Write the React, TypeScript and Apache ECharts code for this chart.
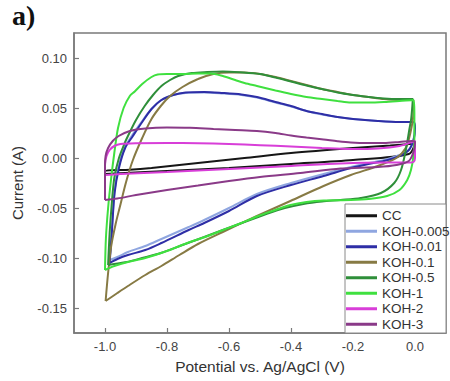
import React, { useEffect, useRef } from 'react';
import * as echarts from 'echarts';

const seriesNames = ['CC', 'KOH-0.005', 'KOH-0.01', 'KOH-0.1', 'KOH-0.5', 'KOH-1', 'KOH-2', 'KOH-3'];
const seriesColors = ['#161616', '#8fa6e0', '#2e2ea6', '#877a44', '#2f8f3a', '#3fe03f', '#d83ed8', '#8a3a88'];
const xTicks = [-1.0, -0.8, -0.6, -0.4, -0.2, 0.0];
const yTicks = [-0.15, -0.1, -0.05, 0.0, 0.05, 0.1];

const loopCC: number[][] = [
  [-1.0, -0.016], [-1.0, -0.013], [-0.92, -0.0118], [-0.85, -0.010], [-0.7, -0.005], [-0.55, 0.0], [-0.4, 0.005],
  [-0.2, 0.010], [-0.08, 0.0125], [0.0, 0.0145], [-0.02, 0.004], [-0.2, -0.002], [-0.4, -0.006],
  [-0.6, -0.010], [-0.8, -0.013], [-1.0, -0.016],
];

const loopKOH0005: number[][] = [
  [-0.985, -0.102], [-0.978, -0.072], [-0.97, -0.036], [-0.957, -0.01], [-0.937, 0.01], [-0.912, 0.023],
  [-0.88, 0.037], [-0.85, 0.049], [-0.818, 0.058], [-0.78, 0.063], [-0.74, 0.065], [-0.68, 0.0655],
  [-0.62, 0.0645], [-0.56, 0.063], [-0.51, 0.0605], [-0.45, 0.0555], [-0.4, 0.0515], [-0.35, 0.047],
  [-0.3, 0.0435], [-0.25, 0.041], [-0.2, 0.039], [-0.12, 0.037], [-0.05, 0.036], [-0.005, 0.036],
  [0.0, 0.029], [-0.005, 0.017], [-0.02, 0.008], [-0.05, 0.003], [-0.1, -0.002], [-0.15, -0.005],
  [-0.207, -0.009], [-0.295, -0.016], [-0.4, -0.025], [-0.51, -0.036], [-0.6, -0.05], [-0.68, -0.062],
  [-0.73, -0.069], [-0.818, -0.081], [-0.87, -0.088], [-0.926, -0.094], [-0.96, -0.099], [-0.985, -0.102],
];

const loopKOH001: number[][] = [
  [-0.985, -0.105], [-0.978, -0.075], [-0.969, -0.035], [-0.955, -0.01], [-0.935, 0.01], [-0.91, 0.022],
  [-0.88, 0.036], [-0.85, 0.049], [-0.818, 0.058], [-0.78, 0.063], [-0.74, 0.0655], [-0.68, 0.066],
  [-0.62, 0.065], [-0.56, 0.0635], [-0.51, 0.061], [-0.45, 0.056], [-0.4, 0.052], [-0.35, 0.047],
  [-0.3, 0.044], [-0.25, 0.041], [-0.2, 0.039], [-0.12, 0.037], [-0.05, 0.036], [-0.005, 0.036],
  [0.0, 0.03], [-0.005, 0.018], [-0.02, 0.008], [-0.05, 0.002], [-0.1, -0.003], [-0.15, -0.006],
  [-0.207, -0.01], [-0.295, -0.018], [-0.4, -0.027], [-0.51, -0.038], [-0.6, -0.053], [-0.68, -0.065],
  [-0.73, -0.072], [-0.818, -0.085], [-0.87, -0.092], [-0.926, -0.097], [-0.96, -0.101], [-0.985, -0.105],
];

const loopKOH01: number[][] = [
  [-0.998, -0.143], [-0.99, -0.115], [-0.98, -0.088], [-0.965, -0.065], [-0.953, -0.05], [-0.932, -0.024],
  [-0.91, -0.002], [-0.88, 0.02], [-0.85, 0.039], [-0.82, 0.052], [-0.79, 0.062], [-0.75, 0.071],
  [-0.7, 0.079], [-0.65, 0.084], [-0.6, 0.0855], [-0.55, 0.0855], [-0.5, 0.084], [-0.45, 0.081],
  [-0.4, 0.077], [-0.35, 0.073], [-0.3, 0.069], [-0.25, 0.066], [-0.2, 0.063], [-0.15, 0.061],
  [-0.1, 0.059], [-0.05, 0.058], [-0.005, 0.058], [-0.005, 0.045], [-0.015, 0.025], [-0.03, 0.01],
  [-0.06, 0.0], [-0.12, -0.008], [-0.207, -0.017], [-0.295, -0.028], [-0.402, -0.043], [-0.51, -0.058],
  [-0.62, -0.074], [-0.7, -0.086], [-0.76, -0.097], [-0.818, -0.108], [-0.87, -0.117], [-0.926, -0.128],
  [-0.96, -0.135], [-0.998, -0.143],
];

const loopKOH05: number[][] = [
  [-0.99, -0.107], [-0.985, -0.075], [-0.978, -0.045], [-0.97, -0.02], [-0.955, 0.0], [-0.935, 0.016],
  [-0.926, 0.022], [-0.9, 0.038], [-0.872, 0.052], [-0.845, 0.063], [-0.818, 0.072], [-0.79, 0.078],
  [-0.764, 0.082], [-0.72, 0.085], [-0.67, 0.086], [-0.62, 0.0865], [-0.565, 0.0857], [-0.5, 0.084],
  [-0.45, 0.0805], [-0.4, 0.0765], [-0.35, 0.0725], [-0.3, 0.069], [-0.25, 0.0655], [-0.2, 0.063],
  [-0.15, 0.061], [-0.1, 0.0595], [-0.05, 0.059], [-0.007, 0.059], [-0.012, 0.04], [-0.018, 0.029],
  [-0.029, 0.009], [-0.045, -0.012], [-0.067, -0.025], [-0.11, -0.035], [-0.175, -0.04], [-0.24, -0.042],
  [-0.3, -0.0435], [-0.36, -0.046], [-0.42, -0.05], [-0.48, -0.056], [-0.55, -0.064], [-0.62, -0.072],
  [-0.68, -0.079], [-0.75, -0.087], [-0.82, -0.095], [-0.88, -0.1], [-0.93, -0.104], [-0.99, -0.107],
];

const loopKOH1: number[][] = [
  [-1.0, -0.112], [-0.997, -0.08], [-0.99, -0.05], [-0.98, -0.02], [-0.97, 0.005], [-0.958, 0.03],
  [-0.94, 0.05], [-0.92, 0.062], [-0.904, 0.0665], [-0.88, 0.074], [-0.85, 0.081], [-0.83, 0.0835],
  [-0.8, 0.084], [-0.75, 0.084], [-0.7, 0.0845], [-0.66, 0.0845], [-0.62, 0.082], [-0.58, 0.078],
  [-0.55, 0.075], [-0.51, 0.072], [-0.45, 0.0675], [-0.4, 0.064], [-0.35, 0.061], [-0.3, 0.059],
  [-0.25, 0.057], [-0.207, 0.0555], [-0.15, 0.0555], [-0.1, 0.056], [-0.05, 0.057], [-0.005, 0.058],
  [-0.002, 0.045], [-0.002, 0.02], [-0.006, 0.0], [-0.013, -0.012], [-0.025, -0.022], [-0.05, -0.032],
  [-0.09, -0.038], [-0.15, -0.041], [-0.207, -0.042], [-0.295, -0.0425], [-0.35, -0.044], [-0.402, -0.047],
  [-0.45, -0.052], [-0.51, -0.0585], [-0.56, -0.065], [-0.619, -0.072], [-0.677, -0.079], [-0.726, -0.084],
  [-0.8, -0.093], [-0.87, -0.1], [-0.926, -0.104], [-0.97, -0.108], [-1.0, -0.112],
];

const loopKOH2: number[][] = [
  [-1.0, -0.017], [-1.0, -0.006], [-0.995, 0.002], [-0.985, 0.008], [-0.97, 0.012], [-0.95, 0.014],
  [-0.9, 0.0148], [-0.8, 0.015], [-0.7, 0.0148], [-0.6, 0.014], [-0.5, 0.0128], [-0.4, 0.0115],
  [-0.3, 0.01], [-0.207, 0.009], [-0.12, 0.0095], [-0.05, 0.012], [-0.01, 0.016], [0.0, 0.017],
  [0.0, 0.0], [-0.005, -0.004], [-0.015, -0.0045], [-0.1, -0.0045], [-0.24, -0.0055], [-0.4, -0.008],
  [-0.6, -0.011], [-0.8, -0.014], [-0.95, -0.016], [-1.0, -0.017],
];

const loopKOH3: number[][] = [
  [-1.0, -0.042], [-1.0, -0.01], [-0.998, 0.002], [-0.99, 0.01], [-0.975, 0.017], [-0.956, 0.022],
  [-0.92, 0.027], [-0.87, 0.0295], [-0.8, 0.0305], [-0.726, 0.0302], [-0.65, 0.029], [-0.58, 0.028],
  [-0.51, 0.027], [-0.45, 0.025], [-0.4, 0.0225], [-0.35, 0.0205], [-0.295, 0.0186], [-0.25, 0.0168],
  [-0.207, 0.0155], [-0.15, 0.015], [-0.1, 0.015], [-0.05, 0.016], [-0.01, 0.017], [0.0, 0.016],
  [-0.005, 0.006], [-0.02, -0.003], [-0.06, -0.007], [-0.12, -0.009], [-0.24, -0.0105], [-0.37, -0.015],
  [-0.5, -0.019], [-0.6, -0.023], [-0.7, -0.0275], [-0.8, -0.032], [-0.9, -0.037], [-0.96, -0.0405],
  [-1.0, -0.042],
];

const loops = [loopCC, loopKOH0005, loopKOH001, loopKOH01, loopKOH05, loopKOH1, loopKOH2, loopKOH3];

const FONT = '"Liberation Sans", Arial, sans-serif';

function fmt(v: number, d: number) {
  const x = Math.abs(v) < 1e-9 ? 0 : v;
  return x.toFixed(d);
}

export default function App() {
  const ref = useRef<HTMLDivElement>(null);
  useEffect(() => {
    if (!ref.current) return;
    const chart = echarts.init(ref.current, undefined, { renderer: 'svg' });
    const option: any = {
      animation: false,
      backgroundColor: '#ffffff',
      textStyle: { fontFamily: FONT },
      grid: {
        left: 74, right: 4, top: 33, bottom: 48,
        show: true, borderColor: '#7a7a7a', borderWidth: 1.5, backgroundColor: 'transparent',
      },
      xAxis: {
        type: 'value', min: -1.1, max: 0.1,
        axisLine: { show: true, onZero: false, lineStyle: { color: '#7a7a7a', width: 1.5 } },
        axisTick: { show: true, inside: true, length: 5, customValues: xTicks, lineStyle: { color: '#7a7a7a', width: 1.2 } },
        axisLabel: { customValues: xTicks, formatter: (v: number) => fmt(v, 1), fontSize: 13, color: '#444', margin: 7, fontFamily: FONT },
        splitLine: { show: false },
        name: 'Potential vs. Ag/AgCl (V)', nameLocation: 'middle', nameGap: 25,
        nameTextStyle: { fontSize: 15.5, color: '#333', fontFamily: FONT },
      },
      yAxis: {
        type: 'value', min: -0.175, max: 0.125,
        axisLine: { show: true, onZero: false, lineStyle: { color: '#7a7a7a', width: 1.5 } },
        axisTick: { show: true, inside: true, length: 5, customValues: yTicks, lineStyle: { color: '#7a7a7a', width: 1.2 } },
        axisLabel: { customValues: yTicks, formatter: (v: number) => fmt(v, 2), fontSize: 13, color: '#444', margin: 7, fontFamily: FONT },
        splitLine: { show: false },
        name: 'Current (A)', nameLocation: 'middle', nameGap: 49, nameRotate: 90,
        nameTextStyle: { fontSize: 15, color: '#333', fontFamily: FONT },
      },
      legend: {
        data: seriesNames,
        orient: 'vertical', left: 346, top: 208, padding: 0, itemGap: 0,
        icon: 'rect', itemWidth: 31, itemHeight: 3,
        textStyle: { fontSize: 13.5, color: '#333', lineHeight: 15.5, fontFamily: FONT },
        z: 6,
      },
      graphic: [
        {
          type: 'rect', z: 3,
          shape: { x: 345, y: 204, width: 101, height: 129 },
          style: { fill: '#ffffff', stroke: '#8a8a8a', lineWidth: 1 },
        },
        {
          type: 'text', x: 12, y: 15, z: 10,
          style: { text: 'a)', font: 'bold 28px "Liberation Serif", "Times New Roman", serif', fill: '#111', verticalAlign: 'middle', align: 'left' },
        },
      ],
      series: loops.map((d, i) => ({
        name: seriesNames[i],
        type: 'line',
        data: d,
        showSymbol: false,
        symbol: 'none',
        smooth: 0.3,
        color: seriesColors[i],
        lineStyle: { color: seriesColors[i], width: 2 },
        z: 2,
      })),
    };
    chart.setOption(option);
    return () => chart.dispose();
  }, []);
  return <div ref={ref} style={{ position: 'absolute', left: 0, top: 0, width: 450, height: 381 }} />;
}
